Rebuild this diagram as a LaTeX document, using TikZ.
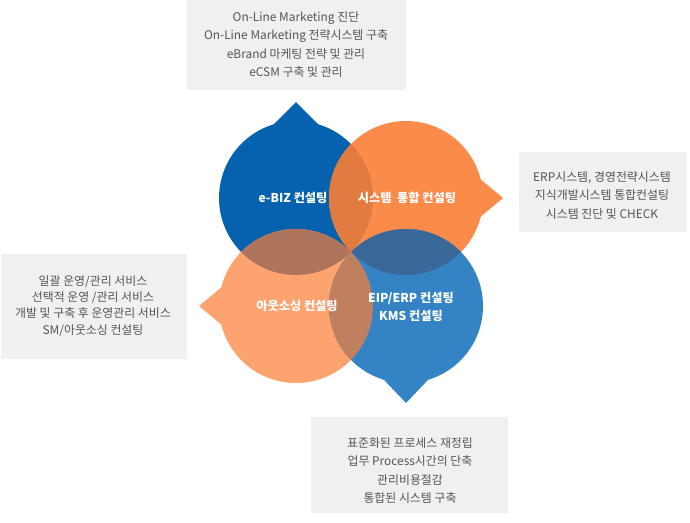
\documentclass[tikz,border=0pt]{standalone}
\usepackage{fontspec}
\setmainfont{Noto Sans CJK KR}
\usetikzlibrary{calc}
\definecolor{cTL}{RGB}{6,98,175}
\definecolor{cTR}{RGB}{251,139,74}
\definecolor{cBL}{RGB}{252,163,112}
\definecolor{cBR}{RGB}{52,131,196}
\definecolor{cTLTR}{RGB}{225,123,64}
\definecolor{cTLBL}{RGB}{174,116,92}
\definecolor{cTRBR}{RGB}{58,104,152}
\definecolor{cBLBR}{RGB}{192,128,96}
\definecolor{boxgray}{RGB}{240,240,240}
\definecolor{txtgray}{RGB}{85,85,85}
\tikzset{
  infobox/.style={fill=boxgray, draw=none, inner sep=0pt},
  infotext/.style={text=txtgray, font=\fontsize{11.9}{18.3}\selectfont, align=center, inner sep=0pt},
  circlabel/.style={text=white, font=\bfseries\fontsize{12.2}{18}\selectfont, align=center, inner sep=0pt},
}
\begin{document}
\begin{tikzpicture}[x=1pt,y=1pt]
\useasboundingbox (0,0) rectangle (690,-522);
% gray boxes
\node[infobox, minimum width=219pt, minimum height=90pt] (boxT) at (296.5,-45) {};
\node[infobox, minimum width=168pt, minimum height=80pt] (boxR) at (603,-192) {};
\node[infobox, minimum width=186pt, minimum height=105pt] (boxL) at (94,-306.5) {};
\node[infobox, minimum width=197pt, minimum height=96pt] (boxB) at (409.5,-465) {};
% circle centres
\coordinate (TL) at (296,-198);
\coordinate (TR) at (406,-198);
\coordinate (BL) at (296,-306);
\coordinate (BR) at (406,-306);
% circles with pointers
\fill[cTL] (TL) circle (77pt);
\fill[cTL] ($(TL)+(72:76pt)$) -- ($(TL)+(90:96pt)$) -- ($(TL)+(108:76pt)$) -- cycle;
\fill[cTR] (TR) circle (77pt);
\fill[cTR] ($(TR)+(15:76pt)$) -- ($(TR)+(0:97pt)$) -- ($(TR)+(-15:76pt)$) -- cycle;
\fill[cBL] (BL) circle (77pt);
\fill[cBL] ($(BL)+(165:76pt)$) -- ($(BL)+(180:97pt)$) -- ($(BL)+(195:76pt)$) -- cycle;
\fill[cBR] (BR) circle (77pt);
\fill[cBR] ($(BR)+(252:76pt)$) -- ($(BR)+(270:97pt)$) -- ($(BR)+(288:76pt)$) -- cycle;
% overlaps
\begin{scope}
  \clip (TL) circle (77pt);
  \fill[cTLTR] (TR) circle (77pt);
  \fill[cTLBL] (BL) circle (77pt);
\end{scope}
\begin{scope}
  \clip (BR) circle (77pt);
  \fill[cTRBR] (TR) circle (77pt);
  \fill[cBLBR] (BL) circle (77pt);
\end{scope}
% circle labels
\node[circlabel] (labTL) at (293,-198) {e-BIZ 컨설팅};
\node[circlabel] (labTR) at (407,-198) {시스템\ \ 통합 컨설팅};
\node[circlabel] (labBL) at (297,-306) {아웃소싱 컨설팅};
\node[circlabel] (labBR) at (411,-307) {EIP/ERP 컨설팅\\KMS 컨설팅};
% box texts
\node[infotext] (txtT) at (296,-44.5) {On-Line Marketing 진단\\On-Line Marketing 전략시스템 구축\\eBrand 마케팅 전략 및 관리\\eCSM 구축 및 관리};
\node[infotext] (txtR) at (602,-195.5) {ERP시스템, 경영전략시스템\\지식개발시스템 통합컨설팅\\시스템 진단 및 CHECK};
\node[infotext, font=\fontsize{11.9}{16.2}\selectfont] (txtL) at (93,-306) {일괄 운영/관리 서비스\\선택적 운영 /관리 서비스\\개발 및 구축 후 운영관리 서비스\\SM/아웃소싱 컨설팅};
\node[infotext] (txtB) at (410,-470.5) {표준화된 프로세스 재정립\\업무 Process시간의 단축\\관리비용절감\\통합된 시스템 구축};
\end{tikzpicture}
\end{document}
